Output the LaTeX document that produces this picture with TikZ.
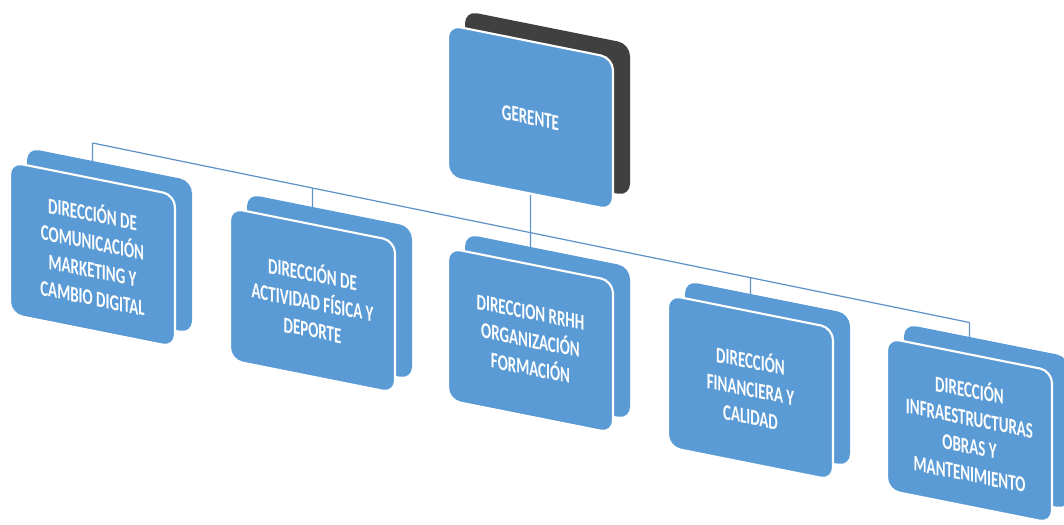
\documentclass[tikz,border=0pt]{standalone}
\usepackage{fontspec}
\setmainfont{Carlito}
\usetikzlibrary{shadows, backgrounds}
\definecolor{cardblue}{RGB}{91, 155, 213}
\definecolor{cardgrey}{RGB}{64, 64, 64}
\definecolor{linkblue}{RGB}{96, 146, 200}
\tikzstyle{card} = [rectangle, rounded corners=7pt, yslant=-0.2, yscale=1.5, minimum width=3.3cm, minimum height=2.03cm, align=center, inner sep=2pt, fill=cardblue, draw=white, line width=1.2pt, text=white, font=\bfseries\fontsize{8.5}{10.6}\selectfont]
\tikzstyle{blueback} = [copy shadow={shadow xshift=0.34cm, shadow yshift=0.28cm, fill=cardblue, draw=none}]
\tikzstyle{greyback} = [copy shadow={shadow xshift=0.34cm, shadow yshift=0.28cm, fill=cardgrey, draw=none}]
\tikzstyle{link} = [line width=0.7pt, draw=linkblue]

\begin{document}
\begin{tikzpicture}
\useasboundingbox (0,0) rectangle (21.28,-10.48);

\node (gerente) [card, greyback] at (10.61,-2.35) {GERENTE};
\node (comunicacion) [card, blueback] at (1.85,-5.09) {DIRECCIÓN DE\\COMUNICACIÓN\\MARKETING Y\\CAMBIO DIGITAL};
\node (deporte) [card, blueback] at (6.25,-6.01) {DIRECCIÓN DE\\ACTIVIDAD FÍSICA Y\\DEPORTE};
\node (rrhh) [card, blueback] at (10.61,-6.81) {DIRECCION RRHH\\ORGANIZACIÓN\\FORMACIÓN};
\node (financiera) [card, blueback] at (15.01,-7.75) {DIRECCIÓN\\FINANCIERA Y\\CALIDAD};
\node (obras) [card, blueback] at (19.39,-8.61) {DIRECCIÓN\\INFRAESTRUCTURAS\\OBRAS Y\\MANTENIMIENTO};

% Lines
\coordinate (j1) at (1.85,-2.86);
\coordinate (j2) at (6.25,-3.76);
\coordinate (j4) at (15.01,-5.56);
\coordinate (j5) at (19.39,-6.45);
\begin{scope}[on background layer]
\draw [link] (j1) -- (j5);
\draw [link] (gerente) -- (rrhh);
\draw [link] (j1) -- (comunicacion);
\draw [link] (j2) -- (deporte);
\draw [link] (j4) -- (financiera);
\draw [link] (j5) -- (obras);
\end{scope}

\end{tikzpicture}
\end{document}
